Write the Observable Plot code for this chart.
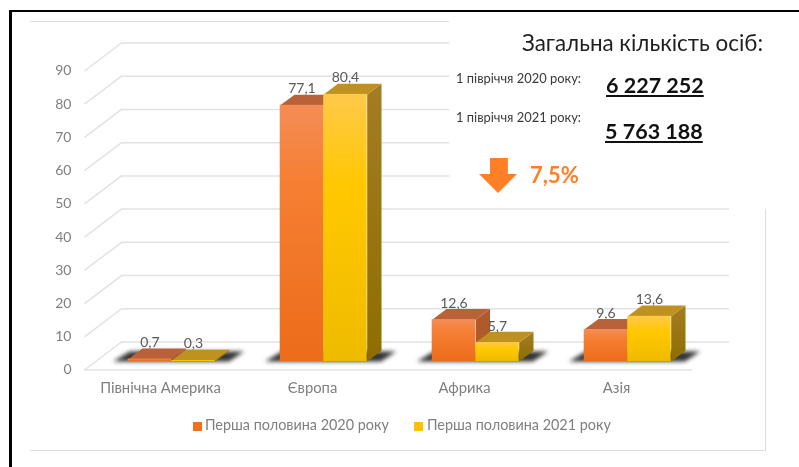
<!DOCTYPE html>
<html lang="uk"><head><meta charset="utf-8">
<script src="https://cdn.jsdelivr.net/npm/d3@7"></script>
<script src="https://cdn.jsdelivr.net/npm/@observablehq/plot@0.6"></script>
<style>
html,body{margin:0;padding:0;background:#fff;overflow:hidden}
#wrap{position:relative;width:799px;height:467px;font-family:Lato,"Noto Sans",sans-serif;overflow:hidden;filter:blur(.4px)}
#wrap svg{position:absolute;left:0;top:0}
.abs{position:absolute;white-space:nowrap}
.line{position:absolute;background:#dedede}
</style></head><body><div id="wrap"></div>
<script>
const categories = ["Північна Америка", "Європа", "Африка", "Азія"];
const series2020 = [0.7, 77.1, 12.6, 9.6];
const series2021 = [0.3, 80.4, 5.7, 13.6];
const seriesNames = ["Перша половина 2020 року", "Перша половина 2021 року"];
const yTicks = [0, 10, 20, 30, 40, 50, 60, 70, 80, 90];

const gray = "#7f7f7f", labelGray = "#595959";
const fontSize = 14;
const barOff = 0.2875, barW = 0.2862;        // bar start and width inside a category band
const depthX = 14.3 / 152, depthY = 10.7 / 3.32;   // bar depth in data units
const wallX = 37 / 152, wallY = 28 / 3.32;         // chart wall depth in data units

const fmt = v => String(v).replace(".", ",");
const rows = (values, shift) => values.map((v, i) => ({i, v, x1: i + barOff + shift * barW, x2: i + barOff + (shift + 1) * barW}));
const r20 = rows(series2020, 0), r21 = rows(series2021, 1);

const polys = (data, f) => data.flatMap(d => f(d).map(([x, y]) => ({id: d.i, x, y})));
const topFace = d => [[d.x1, d.v], [d.x2, d.v], [d.x2 + depthX, d.v + depthY], [d.x1 + depthX, d.v + depthY]];
const sideFace = d => [[d.x2, 0], [d.x2 + depthX, depthY], [d.x2 + depthX, d.v + depthY], [d.x2, d.v]];
const shadowFace = d => [[d.x1 - 0.1, 0], [d.x1 + 0.01, 3], [d.x2 + barW + 0.19, 3], [d.x2 + barW + 0.09, 0]];

const face = (data, f, fill, extra = {}) => Plot.line(polys(data, f), {x: "x", y: "y", z: "id", fill, stroke: "none", ...extra});

const defs = () => {
  const ns = "http://www.w3.org/2000/svg";
  const d = document.createElementNS(ns, "defs");
  d.innerHTML = `
  <linearGradient id="g20" x1="0" y1="0" x2="0" y2="1"><stop offset="0" stop-color="#F48D56"/><stop offset=".3" stop-color="#F67F33"/><stop offset="1" stop-color="#EC6C1A"/></linearGradient>
  <linearGradient id="g21" x1="0" y1="0" x2="0" y2="1"><stop offset="0" stop-color="#FFC94A"/><stop offset=".35" stop-color="#FFC800"/><stop offset="1" stop-color="#EFBB00"/></linearGradient>
  <linearGradient id="s21" x1="0" y1="0" x2="0" y2="1"><stop offset="0" stop-color="#A47C24"/><stop offset="1" stop-color="#8E6E00"/></linearGradient>`;
  return d;
};

const plot = Plot.plot({
  width: 799, height: 467,
  marginLeft: 84, marginRight: 107, marginTop: 62, marginBottom: 106,
  style: {background: "transparent", fontFamily: 'Lato,"Noto Sans",sans-serif', fontSize: fontSize + "px", overflow: "visible"},
  x: {domain: [0, 4], axis: null},
  y: {domain: [0, 90], axis: null},
  marks: [
    defs,
    // back wall grid: the upper lines stop at the annotation box
    Plot.ruleY(yTicks, {x1: 0, x2: v => v >= 50 ? 2.16 : 4, dx: 37, dy: -19.5, stroke: "#e2e2e2", strokeWidth: 1.5}),
    // side wall slants
    Plot.link(yTicks, {x1: 0, y1: v => v, x2: wallX, y2: v => v + wallY, dy: 8.5, stroke: "#e2e2e2", strokeWidth: 1.5}),
    // floor front edge
    Plot.ruleY([0], {x1: 0, x2: 4, dy: 8.5, stroke: "#e2e2e2", strokeWidth: 1.5}),
    // y labels
    Plot.axisY(yTicks, {anchor: "left", tickSize: 0, tickPadding: 13, dy: 8.5, label: null, color: gray, tickFormat: d => d, fontSize}),
    // category labels
    Plot.text(categories, {x: (d, i) => i + 0.5, y: 0, dy: 27, text: d => d, fill: gray, fontSize: 14.8}),
    // shadows
    face(r20, shadowFace, "#333", {imageFilter: "blur(2px)"}),
    // 2020 bars
    face(r20, sideFace, "#AE5A2A"),
    face(r20, topFace, "#B9623A"),
    Plot.rect(r20, {x1: "x1", x2: "x2", y1: 0, y2: "v", fill: "url(#g20)"}),
    // 2021 bars
    face(r21, sideFace, "url(#s21)"),
    face(r21, topFace, "#BE9120"),
    Plot.rect(r21, {x1: "x1", x2: "x2", y1: 0, y2: "v", fill: "url(#g21)"}),
    // value labels
    Plot.text(r20, {x: d => (d.x1 + d.x2) / 2, y: "v", dy: -16.5, text: d => fmt(d.v), fill: labelGray, fontSize}),
    Plot.text(r21, {x: d => (d.x1 + d.x2) / 2, y: "v", dy: -16.5, text: d => fmt(d.v), fill: labelGray, fontSize})
  ]
});

const wrap = document.getElementById("wrap");
wrap.appendChild(plot);

const add = (html, css, cls = "abs") => {
  const e = document.createElement("div");
  e.className = cls; e.style.cssText = css; e.innerHTML = html; wrap.appendChild(e); return e;
};
// photo frame and chart box
add("", "left:9px;top:10px;width:3px;height:457px;background:#000;position:absolute");
add("", "left:9px;top:10px;width:790px;height:2px;background:#000;position:absolute");
add("", "left:30px;top:21px;width:419px;height:1px", "line");
add("", "left:30px;top:450px;width:735px;height:1px", "line");
add("", "left:765px;top:209px;width:1px;height:242px", "line");
// legend
const legendColors = ["#F0701E", "#FFC000"];
[[193, 205], [414, 427]].forEach(([sx, tx], k) => {
  add("", `left:${sx}px;top:422px;width:9px;height:9px;background:${legendColors[k]};position:absolute`);
  add(seriesNames[k], `left:${tx}px;top:416px;font-size:14.4px;line-height:18px;color:${gray}`);
});
// annotation
const dark = "#1f1f1f";
add("Загальна кількість осіб:", `left:522px;top:30px;font-size:22.4px;line-height:26px;color:${dark}`);
add("1 півріччя 2020 року:", `left:456px;top:69px;font-size:12.9px;line-height:18px;color:#3a3a3a`);
add("1 півріччя 2021 року:", `left:456px;top:108px;font-size:12.9px;line-height:18px;color:#3a3a3a`);
const bigNum = `font-size:21.5px;line-height:28px;font-weight:700;color:#111;text-decoration:underline;text-underline-offset:2px`;
add("6 227 252", `left:606px;top:71px;${bigNum}`);
add("5 763 188", `left:605px;top:117px;${bigNum}`);
add("", "left:479px;top:158px;width:38px;height:35px;background:#FF7F27;position:absolute;clip-path:polygon(29% 0,76% 0,76% 46%,100% 46%,50% 100%,0 46%,29% 46%)");
add("7,5%", `left:530px;top:161px;font-size:22px;line-height:28px;font-weight:700;color:#FF7F27`);
</script></body></html>
